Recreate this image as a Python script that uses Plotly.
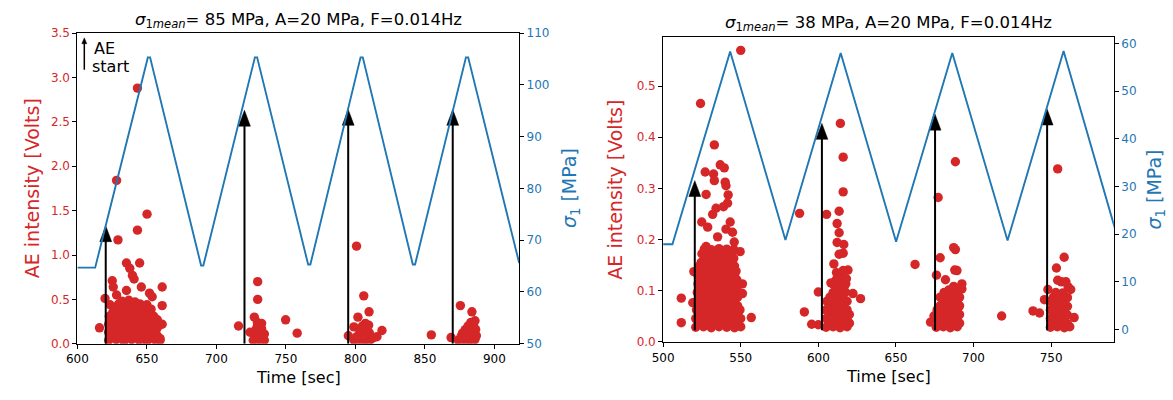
import plotly.graph_objects as go

W, H = 1173, 400
RED = "#d62728"
BLUE = "#1f77b4"
FONT = "DejaVu Sans"

# ---------------- left panel: sigma_1mean = 85 MPa ----------------
sig85_t = [600.0, 612.8, 650.7, 652.3, 689.0, 690.6, 727.7, 729.3, 766.0, 767.6,
           803.7, 805.3, 841.3, 842.9, 879.5, 881.1, 917.8]
sig85_v = [64.7, 64.7, 105.3, 105.3, 65.1, 65.1, 105.3, 105.3, 65.3, 65.3,
           105.3, 105.3, 65.3, 65.3, 105.3, 105.3, 65.6]

# AE bursts, one pair of lists per loading cycle
ae85_b1_t = [
    643.2, 628.2, 650.1, 643.2, 629.2, 635.3, 644.8, 637.7, 639.6, 640.8, 646.0, 625.1,
    625.8, 635.3, 661.0, 651.9, 653.8, 628.2, 619.9, 623.5, 661.0, 615.9, 661.0, 659.5,
    622.5, 628.0, 633.5, 639.0, 644.5, 650.0, 655.5, 659.5,
    625.0, 630.5, 636.0, 641.5, 647.0, 652.5, 657.5,
    622.5, 628.0, 633.5, 639.0, 644.5, 650.0, 655.5,
    625.0, 630.5, 636.0, 641.5, 647.0, 652.5, 657.5,
    622.5, 628.0, 633.5, 639.0, 644.5, 650.0, 655.5,
    625.0, 630.5, 636.0, 641.5, 647.0, 652.5, 657.5,
    623.0, 628.0, 633.5, 639.0, 644.5, 650.0, 655.0,
    625.5, 630.5, 636.0, 641.5, 647.0, 652.0,
    627.0, 632.0, 637.5, 643.0, 648.5, 653.0,
    629.5, 634.5, 640.0, 645.0, 650.0,
    632.0, 637.0, 641.5,
]
ae85_b1_v = [
    2.88, 1.84, 1.46, 1.28, 1.17, 0.91, 0.91, 0.85, 0.77, 0.73, 0.64, 0.71,
    0.64, 0.60, 0.64, 0.57, 0.53, 0.55, 0.51, 0.44, 0.43, 0.18, 0.22, 0.06,
    0.04, 0.05, 0.03, 0.05, 0.04, 0.03, 0.05, 0.04,
    0.085, 0.09, 0.08, 0.09, 0.085, 0.08, 0.09,
    0.13, 0.12, 0.14, 0.13, 0.12, 0.14, 0.13,
    0.175, 0.18, 0.17, 0.18, 0.175, 0.17, 0.18,
    0.22, 0.21, 0.23, 0.22, 0.21, 0.23, 0.22,
    0.265, 0.27, 0.26, 0.27, 0.265, 0.26, 0.27,
    0.31, 0.30, 0.32, 0.31, 0.30, 0.32, 0.31,
    0.355, 0.36, 0.35, 0.36, 0.355, 0.35,
    0.40, 0.41, 0.39, 0.41, 0.40, 0.39,
    0.445, 0.45, 0.44, 0.45, 0.44,
    0.48, 0.49, 0.47,
]
ae85_b2_t = [715.9, 729.7, 729.7, 727.3, 732.5, 724.2, 749.8, 758.1, 729.5,
             726.5, 730.5, 734.5,
             728.5, 732.5,
             727.0, 731.0, 734.5,
             728.5, 732.5,
             729.5]
ae85_b2_v = [0.20, 0.70, 0.50, 0.30, 0.23, 0.13, 0.27, 0.12, 0.24,
             0.04, 0.05, 0.04,
             0.08, 0.09,
             0.12, 0.13, 0.11,
             0.16, 0.17,
             0.20]
ae85_b3_t = [800.8, 806.0, 809.8, 801.8, 807.2, 798.9, 819.1, 794.9, 815.5, 854.6,
             803.7, 809.6,
             799.0, 803.0, 807.0, 811.0,
             801.0, 805.0, 809.0, 813.0,
             803.0, 807.0, 810.0,
             804.0, 808.0,
             805.0, 809.5]
ae85_b3_v = [1.10, 0.54, 0.36, 0.30, 0.23, 0.19, 0.15, 0.09, 0.08, 0.10,
             0.15, 0.13,
             0.04, 0.05, 0.04, 0.05,
             0.08, 0.09, 0.08, 0.07,
             0.12, 0.11, 0.12,
             0.16, 0.17,
             0.20, 0.21]
ae85_b4_t = [868.8, 875.5, 883.8,
             874.0, 878.0, 882.0, 886.0,
             876.0, 880.0, 884.0, 887.0,
             877.0, 881.0, 885.0,
             879.0, 883.0, 886.5,
             881.0, 885.0,
             883.0, 886.0]
ae85_b4_v = [0.07, 0.43, 0.36,
             0.04, 0.05, 0.04, 0.05,
             0.08, 0.09, 0.08, 0.09,
             0.12, 0.13, 0.12,
             0.16, 0.17, 0.16,
             0.20, 0.21,
             0.24, 0.26]

start85_t = [620.4, 720.2, 794.8, 870.0]
start85_tip = [1.33, 2.63, 2.64, 2.64]
start85_base = 0.0

# ---------------- right panel: sigma_1mean = 38 MPa ----------------
sig38_t = [500.0, 506.0, 543.2, 578.8, 614.4, 650.1, 686.3, 721.9, 758.0, 793.5]
sig38_v = [17.9, 17.9, 58.3, 18.8, 58.0, 18.4, 58.0, 18.7, 58.4, 18.5]

ae38_b1_t = [
    550.0, 524.1, 533.0, 536.8, 539.4, 527.1, 532.5, 533.0, 540.0, 540.5, 527.7, 541.9,
    541.5, 534.1, 531.9, 538.9, 524.9, 528.7, 543.2, 535.1, 540.5, 544.7, 545.8, 527.7,
    549.6, 519.8, 551.1, 551.1, 511.7, 519.1, 556.8, 511.7,
    521.0, 526.0, 531.0, 536.0, 541.0, 546.0, 550.0,
    523.5, 528.5, 533.5, 538.5, 543.5, 548.0,
    521.0, 526.0, 531.0, 536.0, 541.0, 546.0, 550.0,
    523.5, 528.5, 533.5, 538.5, 543.5, 548.0,
    521.5, 526.0, 531.0, 536.0, 541.0, 546.0, 549.5,
    523.5, 528.5, 533.5, 538.5, 543.5, 548.0,
    522.0, 526.0, 531.0, 536.0, 541.0, 546.0,
    523.5, 528.5, 533.5, 538.5, 543.5, 548.0,
    522.0, 526.0, 531.0, 536.0, 541.0, 546.0,
    524.0, 528.5, 533.5, 538.5, 543.5, 547.5,
    522.5, 526.0, 531.0, 536.0, 541.0, 546.0,
    524.0, 528.5, 533.5, 538.5, 543.5, 547.5,
    522.5, 526.0, 531.0, 536.0, 541.0, 546.0,
    524.0, 528.5, 533.5, 538.5, 543.5, 547.0,
    523.0, 526.5, 531.0, 536.0, 541.0, 546.0,
    524.5, 528.5, 533.5, 538.5, 543.5,
    526.5, 531.0, 536.0, 541.0, 545.5,
    525.0, 528.5, 533.5, 538.5, 543.5,
    526.5, 531.0, 536.0, 541.0, 545.5,
]
ae38_b1_v = [
    0.570, 0.466, 0.385, 0.346, 0.340, 0.332, 0.328, 0.315, 0.312, 0.305, 0.288, 0.287,
    0.271, 0.261, 0.249, 0.264, 0.234, 0.224, 0.234, 0.205, 0.220, 0.214, 0.195, 0.186,
    0.176, 0.137, 0.113, 0.094, 0.085, 0.076, 0.047, 0.037,
    0.028, 0.029, 0.027, 0.029, 0.028, 0.027, 0.029,
    0.036, 0.037, 0.035, 0.036, 0.037, 0.036,
    0.045, 0.044, 0.046, 0.045, 0.044, 0.046, 0.045,
    0.053, 0.054, 0.052, 0.053, 0.054, 0.053,
    0.062, 0.061, 0.063, 0.062, 0.061, 0.063, 0.062,
    0.070, 0.071, 0.069, 0.070, 0.071, 0.070,
    0.079, 0.078, 0.080, 0.079, 0.078, 0.080,
    0.087, 0.088, 0.086, 0.087, 0.088, 0.087,
    0.096, 0.095, 0.097, 0.096, 0.095, 0.097,
    0.104, 0.105, 0.103, 0.104, 0.105, 0.104,
    0.113, 0.112, 0.114, 0.113, 0.112, 0.114,
    0.121, 0.122, 0.120, 0.121, 0.122, 0.121,
    0.130, 0.129, 0.131, 0.130, 0.129, 0.131,
    0.138, 0.139, 0.137, 0.138, 0.139, 0.138,
    0.147, 0.146, 0.148, 0.147, 0.146, 0.148,
    0.155, 0.156, 0.154, 0.155, 0.156,
    0.164, 0.163, 0.165, 0.164, 0.163,
    0.172, 0.173, 0.171, 0.172, 0.173,
    0.181, 0.180, 0.182, 0.181, 0.180,
]
ae38_b2_t = [
    587.9, 605.3, 613.4, 614.2, 616.0, 616.0, 612.1, 613.4, 612.1, 616.4, 613.4, 616.0,
    610.0, 619.1, 616.0, 611.7, 608.1, 618.1, 617.7, 600.0, 627.2, 622.3, 591.0, 595.7,
    600.0,
    605.0, 609.5, 614.0, 618.5,
    607.0, 611.5, 616.5, 620.0,
    605.0, 609.5, 614.0, 618.5,
    607.0, 611.5, 616.5, 620.0,
    605.0, 609.5, 614.0, 618.5,
    607.0, 611.5, 616.5,
    605.5, 609.5, 614.0, 618.5,
    607.5, 611.5, 616.0,
    609.5, 614.0, 617.5,
    611.5, 616.0,
    609.5, 613.5,
    611.5, 615.5,
    613.0,
]
ae38_b2_v = [
    0.251, 0.249, 0.255, 0.427, 0.361, 0.293, 0.231, 0.213, 0.194, 0.190, 0.171, 0.173,
    0.152, 0.140, 0.139, 0.135, 0.115, 0.123, 0.113, 0.097, 0.084, 0.094, 0.058, 0.034,
    0.033,
    0.028, 0.029, 0.027, 0.029,
    0.036, 0.037, 0.035, 0.036,
    0.045, 0.044, 0.046, 0.045,
    0.053, 0.054, 0.052, 0.053,
    0.062, 0.061, 0.063, 0.062,
    0.070, 0.071, 0.069,
    0.079, 0.078, 0.080, 0.079,
    0.087, 0.088, 0.086,
    0.096, 0.095, 0.097,
    0.104, 0.105,
    0.113, 0.112,
    0.121, 0.122,
    0.130,
]
ae38_b3_t = [
    674.5, 672.3, 662.3, 676.1, 677.2, 678.5, 681.9, 684.0, 687.2, 692.5, 692.5, 687.9,
    689.3, 687.2, 688.3, 688.3,
    676.0, 680.5, 685.0, 689.5,
    678.0, 682.5, 687.0, 691.0,
    676.0, 680.5, 685.0, 689.5,
    678.0, 682.5, 687.0, 691.0,
    676.5, 680.5, 685.0, 689.5,
    678.5, 682.5, 687.0, 691.0,
    680.5, 685.0, 689.5,
    678.5, 682.5, 687.0, 691.0,
    681.0, 685.5, 689.5,
]
ae38_b3_v = [
    0.050, 0.038, 0.151, 0.130, 0.282, 0.164, 0.121, 0.101, 0.108, 0.113, 0.103, 0.140,
    0.139, 0.184, 0.180, 0.352,
    0.028, 0.029, 0.027, 0.029,
    0.036, 0.037, 0.035, 0.036,
    0.045, 0.044, 0.046, 0.045,
    0.053, 0.054, 0.052, 0.053,
    0.062, 0.061, 0.063, 0.062,
    0.070, 0.071, 0.069, 0.070,
    0.079, 0.078, 0.080,
    0.087, 0.088, 0.086, 0.087,
    0.096, 0.095, 0.097,
]
ae38_b4_t = [
    754.2, 758.4, 753.4, 718.1, 738.3, 742.5, 747.9, 745.7, 756.6, 760.9, 762.6, 764.8,
    759.5, 754.2,
    749.5, 754.0, 758.5, 762.0,
    751.5, 756.0, 760.5,
    749.5, 754.0, 758.5,
    751.5, 756.0, 760.5,
    749.5, 754.0, 758.5,
    751.5, 756.0, 760.5,
    749.5, 754.0, 758.5,
    751.5, 756.0, 760.5,
    753.0, 757.5,
]
ae38_b4_v = [
    0.338, 0.165, 0.144, 0.050, 0.060, 0.056, 0.102, 0.082, 0.117, 0.107, 0.102, 0.047,
    0.117, 0.120,
    0.028, 0.029, 0.027, 0.029,
    0.036, 0.037, 0.035,
    0.045, 0.044, 0.046,
    0.053, 0.054, 0.052,
    0.062, 0.061, 0.063,
    0.070, 0.071, 0.069,
    0.079, 0.078, 0.080,
    0.087, 0.088, 0.086,
    0.096, 0.095,
]

start38_t = [520.4, 602.3, 675.2, 747.4]
start38_tip = [0.315, 0.427, 0.445, 0.455]
start38_base = 0.022

ae85_t = ae85_b1_t + ae85_b2_t + ae85_b3_t + ae85_b4_t
ae85_v = ae85_b1_v + ae85_b2_v + ae85_b3_v + ae85_b4_v
ae38_t = ae38_b1_t + ae38_b2_t + ae38_b3_t + ae38_b4_t
ae38_v = ae38_b1_v + ae38_b2_v + ae38_b3_v + ae38_b4_v

# ---------------- layout geometry (pixels) ----------------
PANELS = {
    "left": dict(x0=67, x1=513, y0=27, y1=349,
                 xr=[600, 917.8], yr=[0, 3.5], y2r=[50, 110]),
    "right": dict(x0=658.3, x1=1113.3, y0=31, y1=347.3,
                  xr=[500, 790.4], yr=[-0.0011, 0.5963], y2r=[-2.63, 61.36]),
}

HEAD_W_PX = 12.0
HEAD_L_PX = 16.5
MARKER_PX = 9.4


def start_arrows(ts, tips, base, panel, xa, ya):
    p = PANELS[panel]
    sx = (p["x1"] - p["x0"]) / (p["xr"][1] - p["xr"][0])
    sy = (p["y1"] - p["y0"]) / (p["yr"][1] - p["yr"][0])
    hw = HEAD_W_PX / 2 / sx
    hl = HEAD_L_PX / sy
    shaft_x, shaft_y, head_x, head_y = [], [], [], []
    for t, tip in zip(ts, tips):
        shaft_x += [t, t, None]
        shaft_y += [base, tip - hl * 0.6, None]
        head_x += [t - hw, t + hw, t, t - hw, None]
        head_y += [tip - hl, tip - hl, tip, tip - hl, None]
    shaft = go.Scatter(x=shaft_x, y=shaft_y, mode="lines", xaxis=xa, yaxis=ya,
                       line=dict(color="black", width=2), hoverinfo="skip",
                       showlegend=False)
    head = go.Scatter(x=head_x, y=head_y, mode="lines", fill="toself",
                      fillcolor="black", xaxis=xa, yaxis=ya,
                      line=dict(color="black", width=0.5), hoverinfo="skip",
                      showlegend=False)
    return [shaft, head]


fig = go.Figure()

marker = dict(color=RED, size=MARKER_PX, line=dict(width=0))
fig.add_trace(go.Scatter(x=ae85_t, y=ae85_v, mode="markers", xaxis="x", yaxis="y",
                         marker=marker, showlegend=False))
fig.add_trace(go.Scatter(x=ae38_t, y=ae38_v, mode="markers", xaxis="x2", yaxis="y3",
                         marker=marker, showlegend=False))

for tr in start_arrows(start85_t, start85_tip, start85_base, "left", "x", "y"):
    fig.add_trace(tr)
for tr in start_arrows(start38_t, start38_tip, start38_base, "right", "x2", "y3"):
    fig.add_trace(tr)

# applied stress on the twin axes
fig.add_trace(go.Scatter(x=sig85_t, y=sig85_v, mode="lines", xaxis="x", yaxis="y2",
                         line=dict(color=BLUE, width=1.9), showlegend=False))
fig.add_trace(go.Scatter(x=sig38_t, y=sig38_v, mode="lines", xaxis="x2", yaxis="y4",
                         line=dict(color=BLUE, width=1.9), showlegend=False))


def xdom(p):
    return [p["x0"] / W, p["x1"] / W]


def ydom(p):
    return [1 - p["y1"] / H, 1 - p["y0"] / H]


common = dict(showgrid=False, zeroline=False, ticks="outside", ticklen=4,
              tickwidth=1, tickcolor="black", linecolor="black", linewidth=1)

L, R = PANELS["left"], PANELS["right"]

fig.update_layout(
    width=W, height=H,
    margin=dict(l=0, r=0, t=0, b=0),
    paper_bgcolor="white", plot_bgcolor="white",
    font=dict(family=FONT, size=12, color="black"),
    xaxis=dict(domain=xdom(L), range=L["xr"], anchor="y",
               tickvals=[600, 650, 700, 750, 800, 850, 900],
               showline=True, mirror=True, tickfont=dict(color="black", size=12),
               **common),
    yaxis=dict(domain=ydom(L), range=L["yr"], anchor="x",
               tickvals=[0, 0.5, 1.0, 1.5, 2.0, 2.5, 3.0, 3.5], tickformat=".1f",
               showline=True, mirror=True, tickfont=dict(color=RED, size=12),
               **common),
    yaxis2=dict(overlaying="y", side="right", anchor="x", range=L["y2r"],
                tickvals=[50, 60, 70, 80, 90, 100, 110], showline=False,
                tickfont=dict(color=BLUE, size=12), **common),
    xaxis2=dict(domain=xdom(R), range=R["xr"], anchor="y3",
                tickvals=[500, 550, 600, 650, 700, 750],
                showline=True, mirror=True, tickfont=dict(color="black", size=12),
                **common),
    yaxis3=dict(domain=ydom(R), range=R["yr"], anchor="x2",
                tickvals=[0, 0.1, 0.2, 0.3, 0.4, 0.5], tickformat=".1f",
                showline=True, mirror=True, tickfont=dict(color=RED, size=12),
                **common),
    yaxis4=dict(overlaying="y3", side="right", anchor="x2", range=R["y2r"],
                tickvals=[0, 10, 20, 30, 40, 50, 60], showline=False,
                tickfont=dict(color=BLUE, size=12), **common),
)


def label(text, px, py, size, color="black", angle=0, xanchor="center"):
    fig.add_annotation(text=text, x=px / W, y=1 - py / H, xref="paper", yref="paper",
                       showarrow=False, textangle=angle, xanchor=xanchor,
                       yanchor="middle", font=dict(family=FONT, size=size, color=color))


sig_title = "<i>σ</i><sub>1<i>mean</i></sub>= {} MPa, A=20 MPa, F=0.014Hz"
label(sig_title.format(85), 290, 14, 16.5)
label(sig_title.format(38), 885.5, 17, 16.5)

label("Time [sec]", 290, 384, 16)
label("Time [sec]", 885.5, 383, 16)

label("AE intensity [Volts]", 22, 188, 19, RED, -90)
label("AE intensity [Volts]", 610, 189, 19, RED, -90)
label("<i>σ</i><sub>1</sub> [MPa]", 565, 188, 19, BLUE, -90)
label("<i>σ</i><sub>1</sub> [MPa]", 1155, 189, 19, BLUE, -90)

# key for the onset arrows
label("AE", 82, 43, 16, xanchor="left")
label("start", 80, 62, 16, xanchor="left")
fig.add_shape(type="line", xref="paper", yref="paper",
              x0=74 / W, x1=74 / W, y0=1 - 65 / H, y1=1 - 37 / H,
              line=dict(color="black", width=1.5))
fig.add_shape(type="path", xref="paper", yref="paper",
              path="M {a},{b} L {c},{b} L {d},{e} Z".format(
                  a=71.5 / W, b=1 - 38 / H, c=76.5 / W, d=74 / W, e=1 - 32 / H),
              fillcolor="black", line=dict(color="black", width=0.5))

fig.write_html("out.html")
